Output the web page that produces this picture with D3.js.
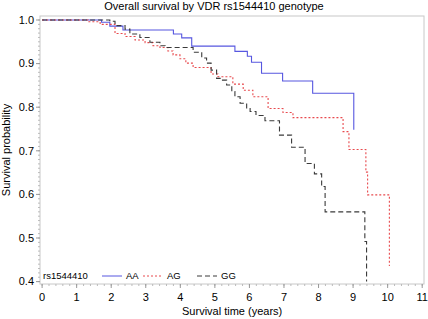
<!DOCTYPE html>
<html>
<head>
<meta charset="utf-8">
<script src="https://cdn.jsdelivr.net/npm/d3@7"></script>
<style>
  body { margin: 0; background: #fff; }
  svg { font-family: "Liberation Sans", Arial, sans-serif; }
</style>
</head>
<body>
<svg id="chart" width="428" height="319"></svg>
<script>
// Kaplan-Meier steps: [time (years), survival]
const aaSteps = [
  [0, 1.0], [1.72, 0.995], [1.96, 0.986], [2.34, 0.977], [3.80, 0.968],
  [4.04, 0.959], [4.33, 0.940], [5.58, 0.928], [5.94, 0.917], [6.06, 0.903],
  [6.35, 0.878], [6.96, 0.860], [7.83, 0.832], [9.02, 0.748]
];
const agSteps = [
  [0, 1.0], [1.33, 0.996], [1.68, 0.990], [2.11, 0.969], [2.40, 0.962],
  [2.69, 0.954], [2.98, 0.948], [3.21, 0.941], [3.41, 0.937], [3.64, 0.929],
  [3.79, 0.920], [3.99, 0.911], [4.16, 0.901], [4.37, 0.891], [4.89, 0.876],
  [5.09, 0.870], [5.52, 0.853], [5.82, 0.839], [6.10, 0.824], [6.54, 0.797],
  [6.97, 0.788], [7.26, 0.776], [8.71, 0.744], [8.88, 0.703], [9.37, 0.651],
  [9.42, 0.599], [10.05, 0.436]
];
const ggSteps = [
  [0, 1.0], [1.96, 0.997], [2.11, 0.987], [2.40, 0.979], [2.54, 0.968],
  [2.83, 0.960], [3.12, 0.949], [3.41, 0.941], [3.56, 0.937], [4.37, 0.926],
  [4.62, 0.913], [4.76, 0.901], [4.89, 0.885], [5.05, 0.866], [5.20, 0.862],
  [5.34, 0.851], [5.49, 0.836], [5.58, 0.824], [5.73, 0.809], [5.92, 0.797],
  [6.02, 0.790], [6.19, 0.781], [6.45, 0.769], [6.87, 0.736], [7.22, 0.708],
  [7.61, 0.671], [7.88, 0.647], [8.09, 0.618], [8.19, 0.560], [9.34, 0.492],
  [9.39, 0.400]
];

const genotypes = ['AA', 'AG', 'GG'];
const xTicks = d3.range(0, 12);
const yTicks = [0.4, 0.5, 0.6, 0.7, 0.8, 0.9, 1.0];

const series = [
  { name: 'AA', steps: aaSteps, color: '#5757e0', dash: null },
  { name: 'AG', steps: agSteps, color: '#e84a4e', dash: '2,2' },
  { name: 'GG', steps: ggSteps, color: '#3a3a3a', dash: '5,3' }
];

const svg = d3.select('#chart');
const frame = { left: 40, right: 424, top: 16, bottom: 284 };

const x = d3.scaleLinear().domain([0, 11]).range([42.1, 422.2]);
const y = d3.scaleLinear().domain([0.4, 1.0]).range([281.6, 20]);

// frame
svg.append('rect')
  .attr('x', frame.left).attr('y', frame.top)
  .attr('width', frame.right - frame.left)
  .attr('height', frame.bottom - frame.top)
  .attr('fill', 'none')
  .attr('stroke', '#c8c8c8')
  .attr('stroke-width', 1);

// x axis
const xAxis = svg.append('g').attr('transform', `translate(0,${frame.bottom})`);
xAxis.selectAll('line.minor')
  .data(d3.range(0, 11.01, 0.2))
  .enter().append('line')
  .attr('x1', d => x(d)).attr('x2', d => x(d))
  .attr('y1', 0).attr('y2', 2)
  .attr('stroke', '#bbb');
xAxis.selectAll('line.major')
  .data(xTicks)
  .enter().append('line')
  .attr('x1', d => x(d)).attr('x2', d => x(d))
  .attr('y1', 0).attr('y2', 4)
  .attr('stroke', '#999');
xAxis.selectAll('text')
  .data(xTicks)
  .enter().append('text')
  .attr('x', d => x(d)).attr('y', 17)
  .attr('text-anchor', 'middle')
  .attr('font-size', 11)
  .text(d => d);

// y axis
const yAxis = svg.append('g').attr('transform', `translate(${frame.left},0)`);
yAxis.selectAll('line.minor')
  .data(d3.range(0.4, 1.0001, 0.01))
  .enter().append('line')
  .attr('x1', -2).attr('x2', 0)
  .attr('y1', d => y(d)).attr('y2', d => y(d))
  .attr('stroke', '#bbb');
yAxis.selectAll('line.major')
  .data(yTicks)
  .enter().append('line')
  .attr('x1', -4).attr('x2', 0)
  .attr('y1', d => y(d)).attr('y2', d => y(d))
  .attr('stroke', '#999');
yAxis.selectAll('text')
  .data(yTicks)
  .enter().append('text')
  .attr('x', -6).attr('y', d => y(d))
  .attr('dy', '0.35em')
  .attr('text-anchor', 'end')
  .attr('font-size', 11)
  .text(d => d.toFixed(1));

// labels
svg.append('text')
  .attr('x', 214).attr('y', 10)
  .attr('text-anchor', 'middle')
  .attr('font-size', 11)
  .text('Overall survival by VDR rs1544410 genotype');

svg.append('text')
  .attr('x', (x(0) + x(11)) / 2).attr('y', 315)
  .attr('text-anchor', 'middle')
  .attr('font-size', 11)
  .text('Survival time (years)');

svg.append('text')
  .attr('transform', `translate(10,${(frame.top + frame.bottom) / 2}) rotate(-90)`)
  .attr('text-anchor', 'middle')
  .attr('font-size', 11)
  .text('Survival probability');

// curves
const line = d3.line()
  .x(d => x(d[0]))
  .y(d => y(d[1]))
  .curve(d3.curveStepAfter);

svg.append('g').selectAll('path')
  .data(series)
  .enter().append('path')
  .attr('d', d => line(d.steps))
  .attr('fill', 'none')
  .attr('stroke', d => d.color)
  .attr('stroke-width', 1.1)
  .attr('stroke-dasharray', d => d.dash);

// legend
const legend = svg.append('g').attr('font-size', 9.5);
legend.append('text')
  .attr('x', 43).attr('y', 279)
  .text('rs1544410');
const legendX = [102, 143, 197];
series.forEach((s, i) => {
  legend.append('line')
    .attr('x1', legendX[i]).attr('x2', legendX[i] + 20)
    .attr('y1', 276).attr('y2', 276)
    .attr('stroke', s.color)
    .attr('stroke-dasharray', s.dash);
  legend.append('text')
    .attr('x', legendX[i] + 24).attr('y', 279)
    .text(genotypes[i]);
});
</script>
</body>
</html>
